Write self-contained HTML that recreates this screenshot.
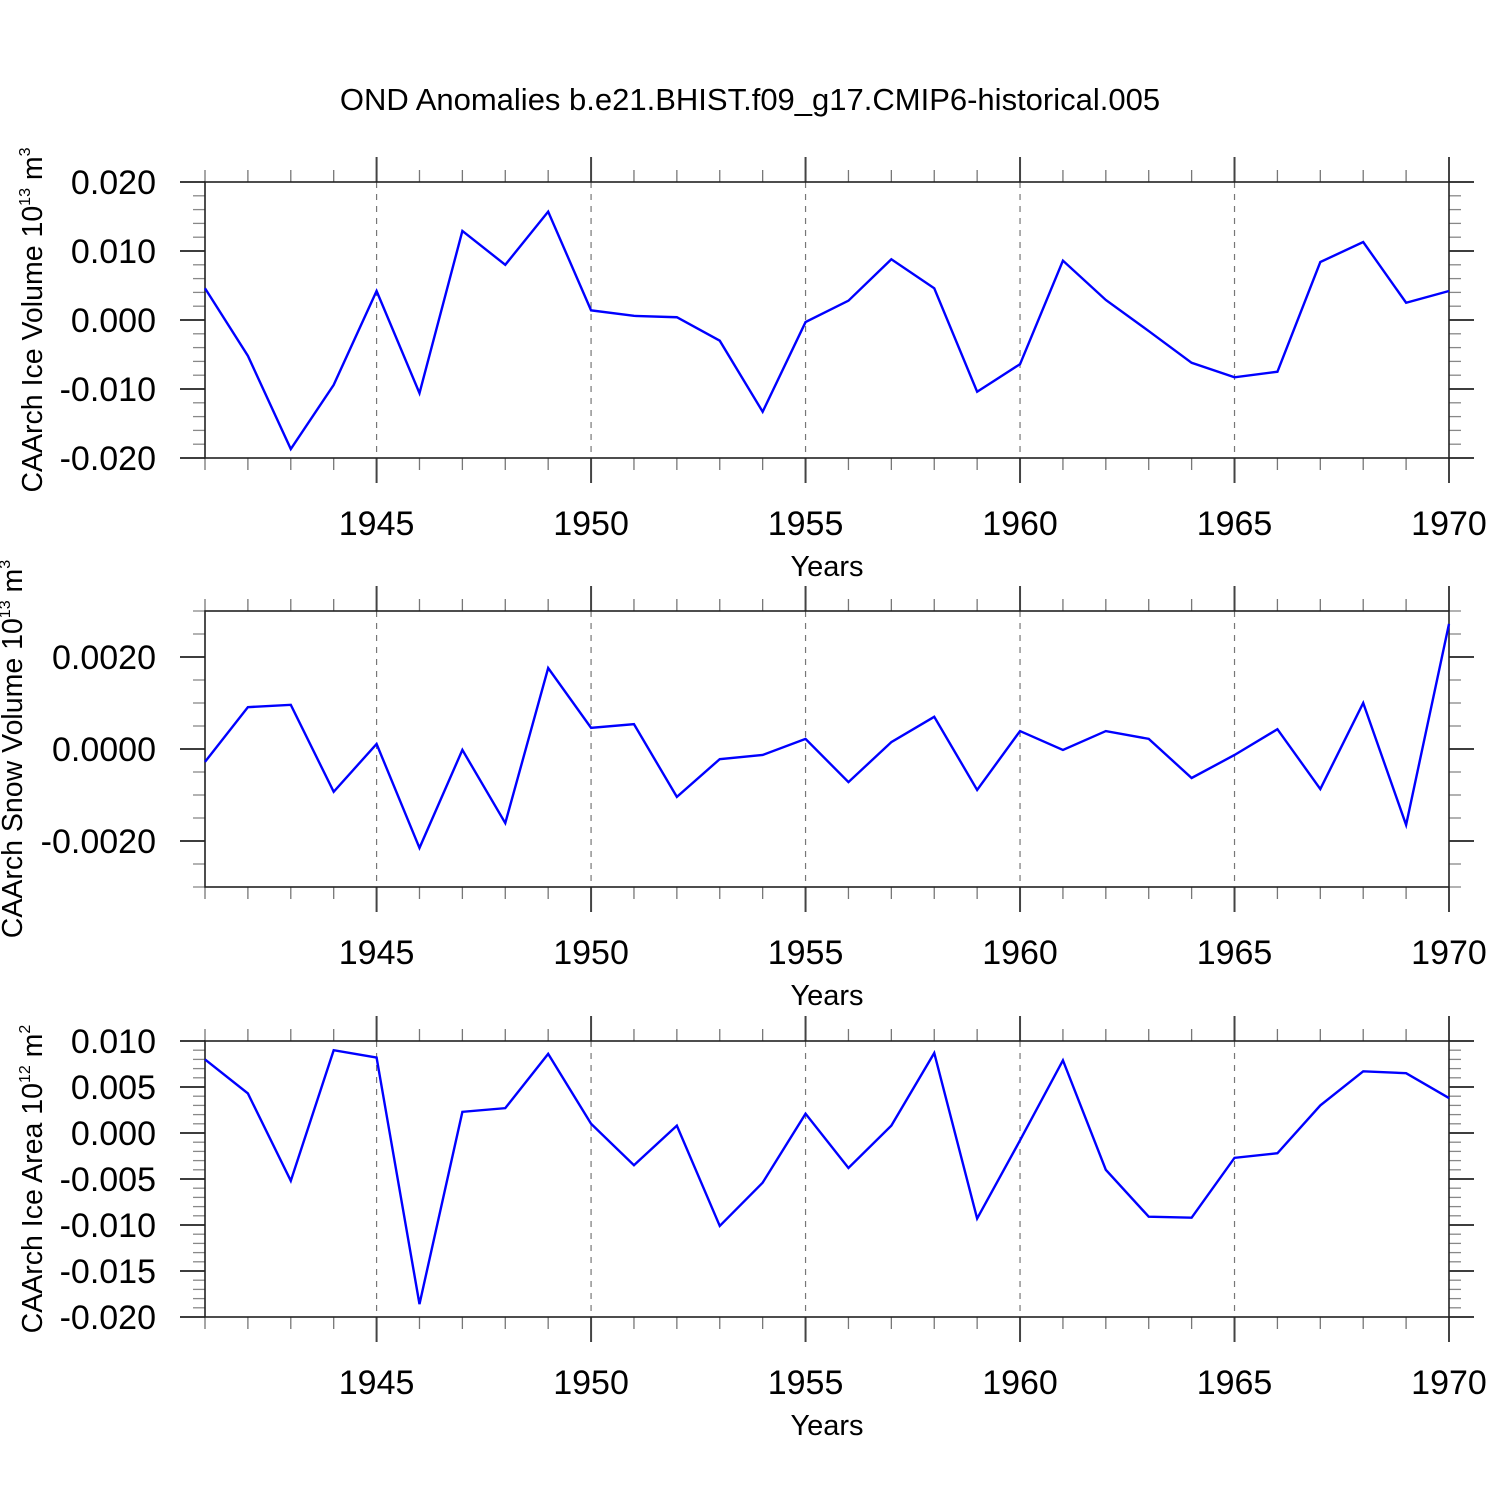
<!DOCTYPE html>
<html><head><meta charset="utf-8"><style>
html,body{margin:0;padding:0;background:#fff;}
svg text{font-family:"Liberation Sans",sans-serif;fill:#000;}
</style></head><body>
<svg id="chart" width="1500" height="1500" viewBox="0 0 1500 1500" xmlns="http://www.w3.org/2000/svg">
<text x="750" y="110" font-size="31" text-anchor="middle">OND Anomalies b.e21.BHIST.f09_g17.CMIP6-historical.005</text>
</svg>
<script>
const years = [1941,1942,1943,1944,1945,1946,1947,1948,1949,1950,1951,1952,1953,1954,1955,1956,1957,1958,1959,1960,1961,1962,1963,1964,1965,1966,1967,1968,1969,1970];
const iceVolume = [0.0046,-0.0052,-0.0187,-0.0094,0.0042,-0.0106,0.0129,0.0080,0.0157,0.0014,0.0006,0.0004,-0.0030,-0.0133,-0.0003,0.0028,0.0088,0.0046,-0.0104,-0.0064,0.0086,0.0029,-0.0016,-0.0062,-0.0083,-0.0075,0.0084,0.0113,0.0025,0.0042];
const snowVolume = [-0.00028,0.00091,0.00096,-0.00093,0.00011,-0.00215,-0.00002,-0.00161,0.00176,0.00046,0.00054,-0.00104,-0.00022,-0.00013,0.00022,-0.00072,0.00015,0.00070,-0.00089,0.00039,-0.00002,0.00039,0.00022,-0.00063,-0.00013,0.00043,-0.00087,0.00100,-0.00165,0.00272];
const iceArea = [0.0080,0.0043,-0.0052,0.0090,0.0082,-0.0186,0.0023,0.0027,0.0086,0.0010,-0.0035,0.0008,-0.0101,-0.0054,0.0021,-0.0038,0.0008,0.0087,-0.0093,-0.0008,0.0079,-0.0040,-0.0091,-0.0092,-0.0027,-0.0022,0.0030,0.0067,0.0065,0.0038];
const xTickYears = [1945,1950,1955,1960,1965,1970];
const iceVolumeTicks = ["-0.020","-0.010","0.000","0.010","0.020"];
const snowVolumeTicks = ["-0.0020","0.0000","0.0020"];
const iceAreaTicks = ["-0.020","-0.015","-0.010","-0.005","0.000","0.005","0.010"];

const NS="http://www.w3.org/2000/svg";
const svg=document.getElementById('chart');
const X0=205,X1=1449,XMIN=1941,XMAX=1970;
function xs(v){return X0+(v-XMIN)/(XMAX-XMIN)*(X1-X0);}
function mk(tag,attrs,parent){const e=document.createElementNS(NS,tag);for(const k in attrs)e.setAttribute(k,attrs[k]);(parent||svg).appendChild(e);return e;}

function panel(name,top,ymin,ymax,minorStep,ticks,data,titleMain,sup,unit,unitSup,titleX){
  const bot=top+276;
  const ys=v=>bot-(v-ymin)/(ymax-ymin)*(bot-top);
  const g=mk('g',{});
  
  
  xTickYears.forEach(yr=>{ if(yr<XMAX){ const l=mk('line',{x1:xs(yr),x2:xs(yr),y1:top,y2:bot,stroke:'#777','stroke-width':1.2,'stroke-dasharray':'6,6'},g);
    
    }});
  for(let yr=XMIN;yr<=XMAX;yr++){
    const major=xTickYears.includes(yr); const len=major?25:12; const x=xs(yr);
    mk('line',{x1:x,x2:x,y1:top-len,y2:top,stroke:major?'#444':'#777','stroke-width':major?2:1.3},g);
    mk('line',{x1:x,x2:x,y1:bot,y2:bot+len,stroke:major?'#444':'#777','stroke-width':major?2:1.3},g);
  }
  const nMinor=Math.round((ymax-ymin)/minorStep);
  const majorVals=ticks.map(Number);
  for(let i=0;i<=nMinor;i++){
    const v=ymin+i*minorStep; const major=majorVals.some(m=>Math.abs(m-v)<minorStep/10);
    const len=major?25:12; const y=ys(v);
    mk('line',{x1:X0-len,x2:X0,y1:y,y2:y,stroke:major?'#222':'#888','stroke-width':major?1.8:1.3},g);
    mk('line',{x1:X1,x2:X1+len,y1:y,y2:y,stroke:major?'#222':'#888','stroke-width':major?1.8:1.3},g);
  }
  const r=mk('rect',{x:X0,y:top,width:X1-X0,height:bot-top,fill:'none',stroke:'#222','stroke-width':1.6},g);
  
  
  ticks.forEach(t=>{const tx=mk('text',{x:156,y:ys(Number(t))+12,'font-size':34,'text-anchor':'end'},g);tx.textContent=t;
    
    });
  xTickYears.forEach(yr=>{const tx=mk('text',{x:xs(yr),y:bot+77,'font-size':34,'text-anchor':'middle'},g);tx.textContent=yr;
    
    });
  const xt=mk('text',{x:827,y:bot+118,'font-size':29,'text-anchor':'middle'},g);xt.textContent='Years';
  
  
  const cy=(top+bot)/2;
  const yt=mk('text',{x:0,y:0,'font-size':28.5,'text-anchor':'middle',transform:`translate(${titleX},${cy}) rotate(-90)`},g);
  
  
  const t1=mk('tspan',{},yt);t1.textContent=titleMain;
  const t2=mk('tspan',{dy:-12,'font-size':16},yt);t2.textContent=sup;
  const t3=mk('tspan',{dy:12},yt);t3.textContent=' '+unit;
  const t4=mk('tspan',{dy:-12,'font-size':16},yt);t4.textContent=unitSup;
  const pts=years.map((yr,i)=>xs(yr)+','+ys(data[i])).join(' ');
  const pl=mk('polyline',{points:pts,fill:'none',stroke:'#0000ff','stroke-width':2.4,'stroke-linejoin':'miter'},g);
  
  
}
panel('ice-volume',182,-0.020,0.020,0.002,iceVolumeTicks,iceVolume,'CAArch Ice Volume 10','13','m','3',42);
panel('snow-volume',611,-0.003,0.003,0.0005,snowVolumeTicks,snowVolume,'CAArch Snow Volume 10','13','m','3',22);
panel('ice-area',1041,-0.020,0.010,0.001,iceAreaTicks,iceArea,'CAArch Ice Area 10','12','m','2',42);
</script>
</body></html>
